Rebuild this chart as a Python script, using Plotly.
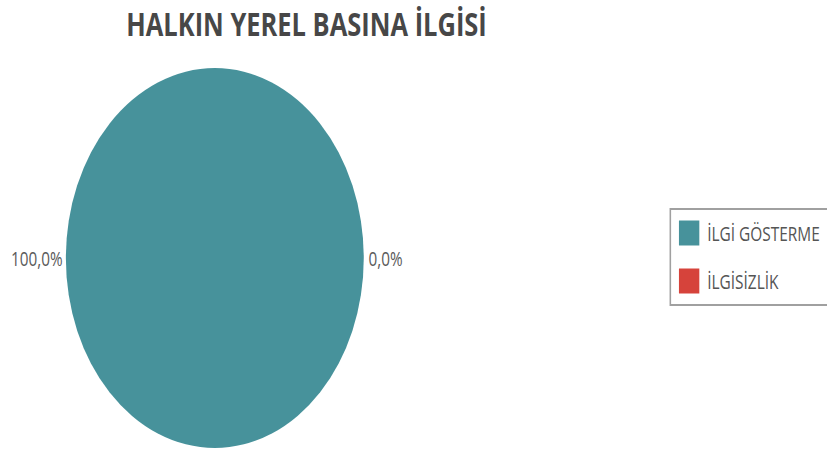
import plotly.graph_objects as go

# Survey result: public interest in the local press
title = "HALKIN YEREL BASINA İLGİSİ"
categories = ["İLGİ GÖSTERME", "İLGİSİZLİK"]
shares = [100.0, 0.0]
colors = ["#47929b", "#d6433b"]

# The page is drawn wide, then squeezed horizontally in the browser
SQUEEZE = 0.784
H = 454
W = round(827 / SQUEEZE)

FONT = "Open Sans"

# pie geometry (pixels in the unsqueezed drawing)
cx, cy, r = 274, 258, 190

fig = go.Figure(
    go.Pie(
        labels=categories,
        values=shares,
        marker=dict(colors=colors, line=dict(width=0)),
        sort=False,
        direction="clockwise",
        textinfo="none",
        hoverinfo="label+percent",
        showlegend=False,
        domain=dict(x=[(cx - r) / W, (cx + r) / W],
                    y=[(H - cy - r) / H, (H - cy + r) / H]),
    )
)

def pct(v):
    return f"{v:.1f}%".replace(".", ",")

annotations = [
    dict(text=pct(shares[0]), x=(cx - r - 2) / W, y=(H - cy) / H,
         xanchor="right", yanchor="middle"),
    dict(text=pct(shares[1]), x=(cx + r + 4) / W, y=(H - cy) / H,
         xanchor="left", yanchor="middle"),
]
for a in annotations:
    a.update(xref="paper", yref="paper", showarrow=False,
             font=dict(family=FONT, size=19.5, color="#5a5a5a"))

# legend box with coloured keys
shapes = []
lx0, ly_top, ly_bot = 855, 209, 305
shapes.append(dict(type="rect", xref="paper", yref="paper",
                   x0=lx0 / W, x1=(W + 10) / W,
                   y0=(H - ly_bot) / H, y1=(H - ly_top) / H,
                   line=dict(color="#a0a0a0", width=2), fillcolor="rgba(0,0,0,0)"))
item_y = [233, 281]
for name, col, yc in zip(categories, colors, item_y):
    shapes.append(dict(type="rect", xref="paper", yref="paper",
                       x0=866 / W, x1=892 / W,
                       y0=(H - yc - 12.5) / H, y1=(H - yc + 12.5) / H,
                       line=dict(width=0), fillcolor=col))
    annotations.append(dict(text=name, xref="paper", yref="paper",
                            x=900 / W, y=(H - yc) / H, xanchor="left",
                            yanchor="middle", showarrow=False,
                            font=dict(family=FONT, size=19.7, color="#555555")))

fig.update_layout(
    width=W,
    height=H,
    margin=dict(l=0, r=0, t=0, b=0),
    paper_bgcolor="white",
    plot_bgcolor="white",
    title=dict(text=f"<b>{title}</b>", x=391 / W, xanchor="center",
               y=(H - 25) / H, yanchor="middle",
               font=dict(family=FONT, size=32.5, color="#474747")),
    annotations=annotations,
    shapes=shapes,
)

squeeze_js = f"""
var gd = document.getElementById('{{plot_id}}');
document.documentElement.style.overflow = 'hidden';
document.body.style.overflow = 'hidden';
document.body.style.margin = '0';
gd.style.transformOrigin = '0 0';
gd.style.transform = 'scaleX({SQUEEZE})';
"""

fig.write_html("out.html", post_script=squeeze_js, config={"displayModeBar": False})
